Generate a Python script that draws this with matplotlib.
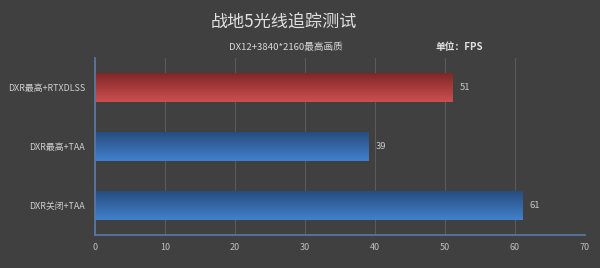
import numpy as np
import matplotlib.pyplot as plt
from matplotlib.colors import LinearSegmentedColormap

plt.rcParams['font.family'] = ['Noto Sans CJK SC', 'DejaVu Sans']

categories = ['DXR最高+RTXDLSS', 'DXR最高+TAA', 'DXR关闭+TAA']
fps = [51, 39, 61]
bar_colors = [('#7d2626', '#cc4f4f'), ('#264b7c', '#4180cc'), ('#264b7c', '#4180cc')]
xticks = [0, 10, 20, 30, 40, 50, 60, 70]

bg = '#404040'
fig = plt.figure(figsize=(6, 2.68), dpi=100, facecolor=bg)
ax = fig.add_axes([0.158, 0.123, 0.817, 0.661], facecolor=bg)

ypos = np.arange(len(categories))
bars = ax.barh(ypos, fps, height=0.5, color='none', edgecolor='none', zorder=2)

# vertical gradient fill: dark top, light bottom
grad = np.linspace(0, 1, 64).reshape(-1, 1)
for b, (top, bottom) in zip(bars, bar_colors):
    cmap = LinearSegmentedColormap.from_list('g', [top, bottom])
    x0, y0 = b.get_x(), b.get_y()
    w, h = b.get_width(), b.get_height()
    im = ax.imshow(grad, cmap=cmap, aspect='auto', origin='upper',
                   extent=[x0, x0 + w, y0 + h, y0], zorder=2)
    im.set_clip_path(b)

for y, v in zip(ypos, fps):
    ax.text(v + 1.1, y, str(v), va='center', ha='left', fontsize=6.8, color='#c8c8c8')

ax.set_xlim(0, 70)
ax.set_ylim(len(categories) - 0.5, -0.5)
ax.set_xticks(xticks)
ax.set_yticks(ypos)
ax.set_yticklabels(categories)
ax.tick_params(axis='x', length=0, colors='#bfbfbf', labelsize=6.5, pad=6)
ax.tick_params(axis='y', length=0, colors='#d0d0d0', labelsize=6.4, pad=7)
ax.grid(axis='x', color='#5a5a5a', linewidth=0.8, zorder=0)
ax.set_axisbelow(True)

for s in ['top', 'right']:
    ax.spines[s].set_visible(False)
ax.spines['left'].set_color('#5a7aa6')
ax.spines['left'].set_linewidth(1.2)
ax.spines['bottom'].set_color('#5a7aa6')
ax.spines['bottom'].set_linewidth(1.2)

fig.text(0.473, 0.915, '战地5光线追踪测试', ha='center', va='center',
         fontsize=12.3, color='#e0e0e0')
fig.text(0.476, 0.825, 'DX12+3840*2160最高画质', ha='center', va='center',
         fontsize=6.9, color='#d8d8d8')
fig.text(0.765, 0.825, '单位：FPS', ha='center', va='center',
         fontsize=7, color='#e0e0e0', fontweight='bold')

fig.savefig('out.png', dpi=100, facecolor=bg)
